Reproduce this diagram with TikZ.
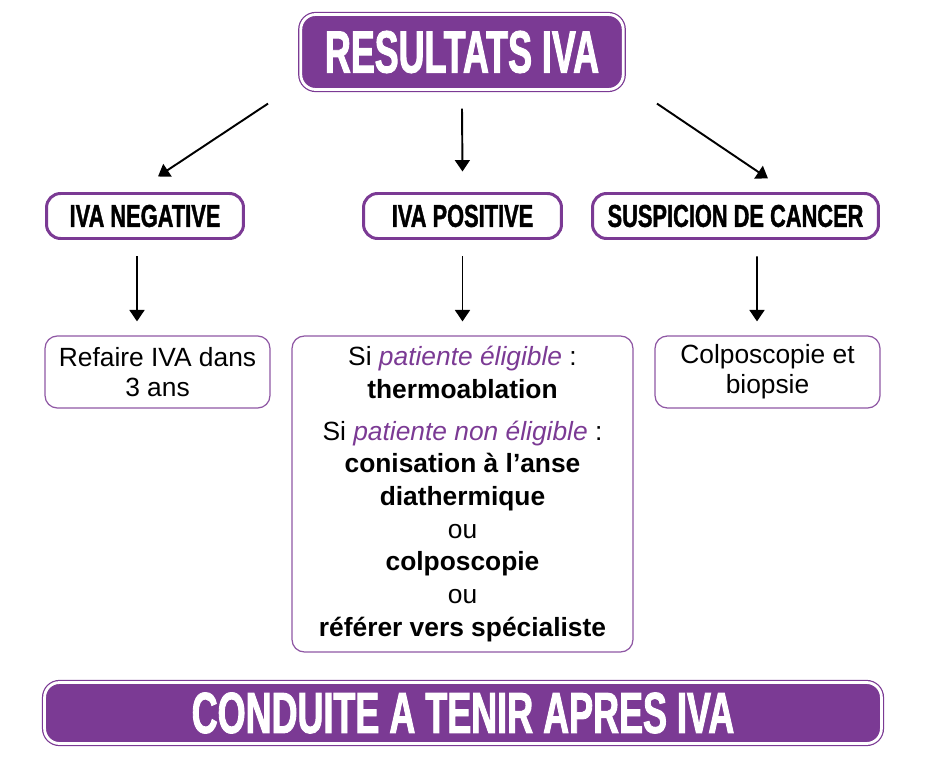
\documentclass[tikz,border=0pt]{standalone}
\usepackage{fontspec}
\setmainfont{Liberation Sans}
\newfontfamily\headfont[FakeStretch=0.6,FakeBold=1.5]{Liberation Sans}
\newfontfamily\footfont[FakeStretch=0.62,FakeBold=1.5]{Liberation Sans}
\newfontfamily\subheadfont[FakeStretch=0.69,FakeBold=1.2]{Liberation Sans}
\usetikzlibrary{arrows.meta,calc}
\definecolor{ivapurple}{RGB}{123,58,148}
\tikzstyle{banner}=[draw=ivapurple,fill=ivapurple,double=white,double distance=1.6pt,line width=0.7pt,rounded corners=8.5pt,inner sep=0pt,text=white,font=\headfont\bfseries\fontsize{34}{36}\selectfont]
\tikzstyle{result}=[draw=ivapurple,line width=1.7pt,fill=white,rounded corners=8pt,inner sep=0pt,minimum height=0.9cm,font=\subheadfont\bfseries\fontsize{18}{20}\selectfont]
\tikzstyle{action}=[draw=ivapurple!85,line width=0.7pt,rounded corners=7pt,inner sep=0pt,align=center,font=\fontsize{15}{17}\selectfont]
\tikzstyle{flow}=[-{Triangle[width=8.5pt,length=6.5pt]},line width=1.1pt]
\newcommand{\elig}[1]{\textcolor{ivapurple}{\itshape #1}}

\begin{document}
\begin{tikzpicture}[x=0.02cm,y=-0.02cm]
  \useasboundingbox (0,0) rectangle (926,763);
  % top and bottom banners
  \node[banner,minimum width=6.45cm,minimum height=1.5cm] (res) at (462,52) {RESULTATS IVA};
  \node[banner,minimum width=16.74cm,minimum height=1.22cm,font=\footfont\bfseries\fontsize{33}{35}\selectfont] (cat) at (463,713) {CONDUITE A TENIR APRES IVA};
  % results
  \node[result,minimum width=3.94cm] (neg) at (145,216) {IVA NEGATIVE};
  \node[result,minimum width=3.96cm] (pos) at (462.5,216) {IVA POSITIVE};
  \node[result,minimum width=5.72cm] (sus) at (735.5,216) {SUSPICION DE CANCER};
  % actions
  \node[action,minimum width=4.5cm,minimum height=1.44cm] (ref) at (157.5,372) {Refaire IVA dans\\3 ans};
  \node[action,minimum width=6.82cm,minimum height=6.32cm,font=\fontsize{15}{18.6}\selectfont] (trt) at (462.5,494)
    {Si \elig{patiente éligible} :\\\textbf{thermoablation}\\[5pt]
     Si \elig{patiente non éligible} :\\\textbf{conisation à l’anse}\\\textbf{diathermique}\\ou\\
     \textbf{colposcopie}\\ou\\\textbf{référer vers spécialiste}};
  \node[action,minimum width=4.5cm,minimum height=1.44cm] (col) at (767.5,372) {Colposcopie et\\biopsie};
  % arrows
  \draw[flow] ($(res.south)+(-194,13.5)$) -- ($(neg.north)+(13,-15.5)$);
  \draw[flow] ($(res.south)+(0,18.5)$) -- ($(pos.north)+(0,-20.5)$);
  \draw[flow] ($(res.south)+(195,13.5)$) -- ($(sus.north)+(32.5,-13.5)$);
  \draw[flow] ($(neg.south)+(-8,16.5)$) -- ($(ref.north)+(-20.5,-14)$);
  \draw[flow] ($(pos.south)+(0,16.5)$) -- ($(trt.north)+(0,-14)$);
  \draw[flow] ($(sus.south)+(21.5,16.5)$) -- ($(col.north)+(-10.5,-14)$);
\end{tikzpicture}
\end{document}
